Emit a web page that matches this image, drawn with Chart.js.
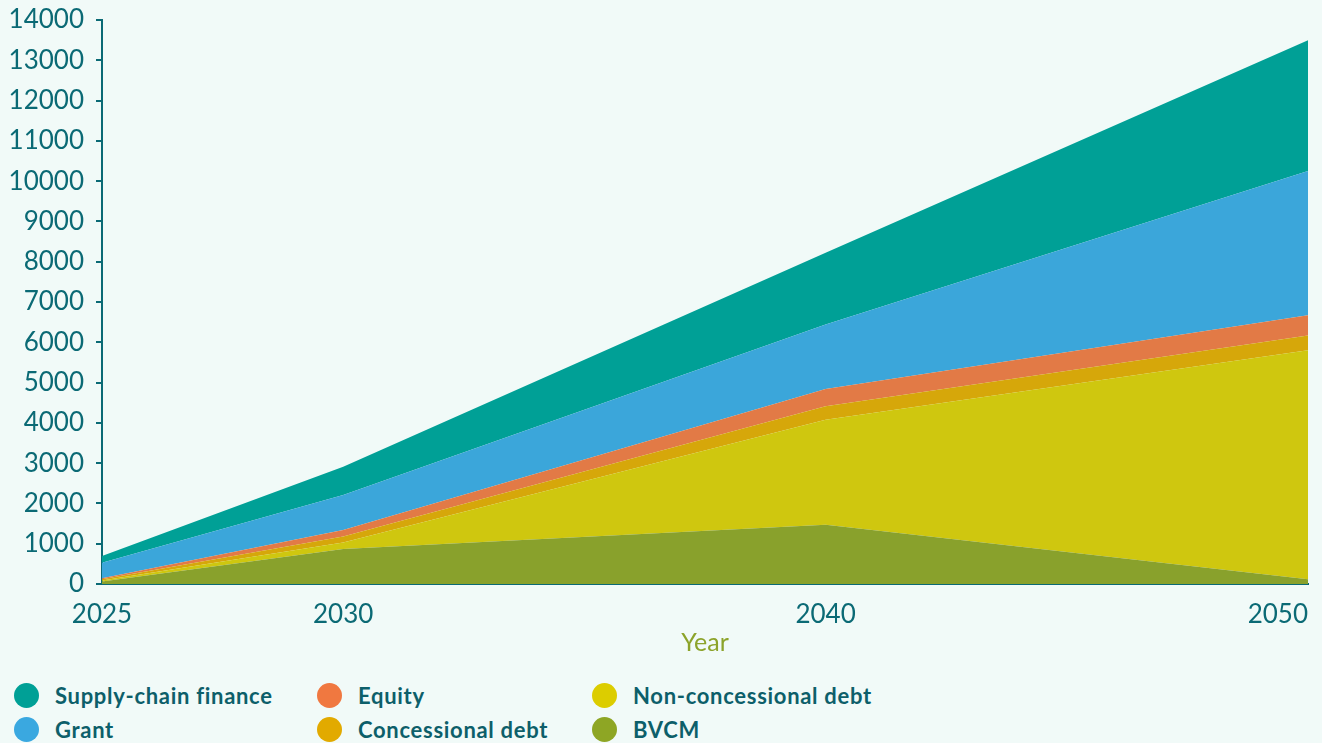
<!DOCTYPE html>
<html>
<head>
<meta charset="utf-8">
<script src="https://cdn.jsdelivr.net/npm/chart.js@4/dist/chart.umd.min.js"></script>
<style>
  body { margin: 0; background: #f1faf8; font-family: Lato, sans-serif; }
  #wrap { position: relative; width: 1322px; height: 662px; }
  #legend { position: absolute; left: 0; top: 680px; width: 1322px; height: 63px; }
  .item { position: absolute; display: flex; align-items: center; font-weight: bold; font-size: 22px; letter-spacing: 0.7px; color: #0d5f6a; }
  .dot { width: 25px; height: 25px; border-radius: 50%; margin-right: 16px; }
</style>
</head>
<body>
<div id="wrap"><canvas id="areaChart"></canvas></div>
<div id="legend"></div>
<script>
// values in the chart's units
const years = [2025, 2030, 2040, 2050];
const xTicks = [2025, 2030, 2040, 2050];
const bvcm = [60, 870, 1470, 120];
const nonConcessional = [25, 160, 2610, 5680];
const concessional = [35, 150, 330, 370];
const equity = [20, 160, 430, 500];
const grant = [390, 870, 1600, 3580];
const supplyChain = [165, 700, 1780, 3250];

const axisColor = "#0b6a75";

// bottom to top
const series = [
    { label: "BVCM", data: bvcm, fill: "#89a12c", dot: "#8ea624" },
    { label: "Non-concessional debt", data: nonConcessional, fill: "#cfc70f", dot: "#dccd00" },
    { label: "Concessional debt", data: concessional, fill: "#d6a70a", dot: "#e2aa00" },
    { label: "Equity", data: equity, fill: "#e27a46", dot: "#f07840" },
    { label: "Grant", data: grant, fill: "#3ba6da", dot: "#3aa8e0" },
    { label: "Supply-chain finance", data: supplyChain, fill: "#00a096", dot: "#00a096" }
];

const datasets = series.map((s, i) => ({
    label: s.label,
    data: s.data.map((v, j) => ({ x: years[j], y: v })),
    backgroundColor: s.fill,
    borderWidth: 0,
    pointRadius: 0,
    tension: 0,
    fill: i === 0 ? "origin" : "-1"
}));

new Chart(document.getElementById("areaChart"), {
    type: "line",
    data: { datasets: datasets },
    options: {
        responsive: true,
        maintainAspectRatio: false,
        animation: false,
        layout: { padding: { left: 0, right: 14, top: 20, bottom: 0 } },
        plugins: { legend: { display: false }, tooltip: { enabled: false } },
        scales: {
            x: {
                type: "linear",
                min: 2025,
                max: 2050,
                afterBuildTicks: (s) => { s.ticks = xTicks.map(v => ({ value: v })); },
                afterFit: (s) => { s.height = 78; s.paddingRight = 0; s.paddingLeft = 0; },
                grid: { display: false },
                border: { display: true, color: axisColor, width: 2 },
                ticks: {
                    color: axisColor,
                    font: { family: "Lato", size: 26 },
                    padding: 7,
                    maxRotation: 0,
                    // last label sits inside the plot edge
                    callback: (v) => v === 2050 ? "2050" + "\u2007".repeat(4) : String(v)
                },
                title: {
                    display: true,
                    text: "Year",
                    color: "#8ca32a",
                    font: { family: "Lato", size: 25 },
                    padding: { top: 0 }
                }
            },
            y: {
                stacked: true,
                min: 0,
                max: 14000,
                afterFit: (s) => { s.width = 102; s.paddingTop = 0; s.paddingBottom = 0; },
                grid: { drawOnChartArea: false, drawTicks: true, tickLength: 6, color: axisColor, lineWidth: 2 },
                border: { display: true, color: axisColor, width: 2 },
                ticks: {
                    stepSize: 1000,
                    color: axisColor,
                    font: { family: "Lato", size: 26 },
                    padding: 12,
                    callback: (v) => String(v)
                }
            }
        }
    }
});

// legend, column by column
const legendOrder = [
    ["Supply-chain finance", 14, 696], ["Grant", 14, 730],
    ["Equity", 317, 696], ["Concessional debt", 317, 730],
    ["Non-concessional debt", 592, 696], ["BVCM", 592, 730]
];
const legend = document.getElementById("legend");
legendOrder.forEach(([name, x, y]) => {
    const s = series.find(d => d.label === name);
    const el = document.createElement("div");
    el.className = "item";
    el.style.left = x + "px";
    el.style.top = (y - 680 - 14) + "px";
    el.innerHTML = '<span class="dot" style="background:' + s.dot + '"></span>' + name;
    legend.appendChild(el);
});
</script>
</body>
</html>
